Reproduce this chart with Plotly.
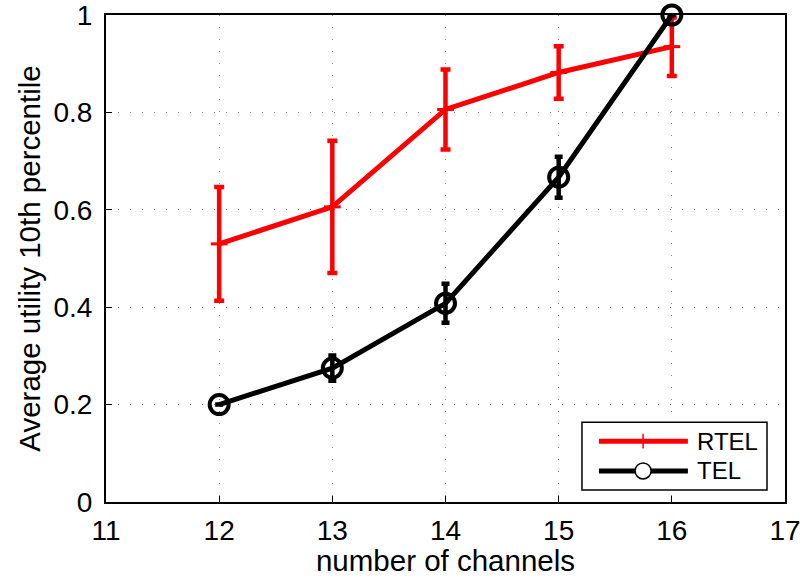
import plotly.graph_objects as go

# Number of channels
channels = [12, 13, 14, 15, 16]

# RTEL: mean utility (10th percentile) with error half-widths
rtel_mean = [0.530, 0.606, 0.806, 0.882, 0.935]
rtel_err = [0.117, 0.136, 0.082, 0.054, 0.060]

# TEL: mean utility (10th percentile) with error half-widths
tel_mean = [0.200, 0.275, 0.408, 0.667, 1.000]
tel_err = [0.000, 0.026, 0.040, 0.042, 0.000]

x_ticks = [11, 12, 13, 14, 15, 16, 17]
y_ticks = [0, 0.2, 0.4, 0.6, 0.8, 1]
y_tick_text = ["0", "0.2", "0.4", "0.6", "0.8", "1"]

FONT = "Liberation Sans, Arial, Helvetica, sans-serif"

fig = go.Figure()

fig.add_trace(go.Scatter(
    x=channels, y=rtel_mean, mode="lines+markers", name="RTEL",
    line=dict(color="#ff0000", width=5),
    marker=dict(symbol="line-ew", size=12, line=dict(color="#ff0000", width=3)),
    error_y=dict(type="data", array=rtel_err, visible=True,
                 color="#ff0000", thickness=4.5, width=5),
    cliponaxis=True,
))

fig.add_trace(go.Scatter(
    x=channels, y=tel_mean, mode="lines+markers", name="TEL",
    line=dict(color="#000000", width=5),
    marker=dict(symbol="circle-open", size=19, color="#000000",
                line=dict(color="#000000", width=4)),
    error_y=dict(type="data", array=tel_err, visible=True,
                 color="#000000", thickness=4.5, width=4),
    cliponaxis=False,
))

axis_common = dict(
    showline=True, linecolor="black", linewidth=2, mirror=True,
    ticks="inside", ticklen=6, tickcolor="black", tickwidth=1,
    showgrid=True, gridcolor="#8a8a8a", griddash="1px,11px", gridwidth=1,
    zeroline=False, automargin=False, ticklabeloverflow="allow",
    tickfont=dict(family=FONT, size=28, color="black"),
    title_font=dict(family=FONT, size=29.5, color="black"),
)

fig.update_xaxes(range=[11, 17], tickvals=x_ticks,
                 title_text="number of channels", title_standoff=6,
                 ticklabelstandoff=2,
                 **axis_common)
fig.update_yaxes(range=[0, 1], tickvals=y_ticks, ticktext=y_tick_text,
                 title_text="Average utility 10th percentile", title_standoff=4,
                 ticklabelstandoff=6,
                 **axis_common)

# Legend box drawn in paper coordinates
shapes = [
    dict(type="rect", xref="paper", yref="paper", x0=0.701, x1=0.9735,
         y0=0.0246, y1=0.164, line=dict(color="black", width=1.5),
         fillcolor="white", layer="above"),
    dict(type="line", xref="paper", yref="paper", x0=0.726, x1=0.857,
         y0=0.125, y1=0.125, line=dict(color="#ff0000", width=5), layer="above"),
    dict(type="line", xref="paper", yref="paper", x0=0.791, x1=0.791,
         y0=0.125 - 0.015, y1=0.125 + 0.015, line=dict(color="#ff0000", width=1.5),
         layer="above"),
    dict(type="line", xref="paper", yref="paper", x0=0.726, x1=0.857,
         y0=0.0637, y1=0.0637, line=dict(color="black", width=5), layer="above"),
    dict(type="circle", xref="paper", yref="paper", xsizemode="pixel",
         ysizemode="pixel", xanchor=0.791, yanchor=0.0637,
         x0=-8, x1=8, y0=-8, y1=8,
         line=dict(color="black", width=1.5), fillcolor="white", layer="above"),
]

annotations = [
    dict(xref="paper", yref="paper", x=0.868, y=0.125, text="RTEL",
         showarrow=False, xanchor="left", yanchor="middle",
         font=dict(family=FONT, size=24, color="black")),
    dict(xref="paper", yref="paper", x=0.868, y=0.0637, text="TEL",
         showarrow=False, xanchor="left", yanchor="middle",
         font=dict(family=FONT, size=24, color="black")),
]

fig.update_layout(
    width=805, height=577,
    margin=dict(l=106, r=20, t=15, b=75),
    paper_bgcolor="white", plot_bgcolor="white",
    showlegend=False,
    shapes=shapes, annotations=annotations,
    font=dict(family=FONT, color="black"),
)

fig.write_html("out.html")
